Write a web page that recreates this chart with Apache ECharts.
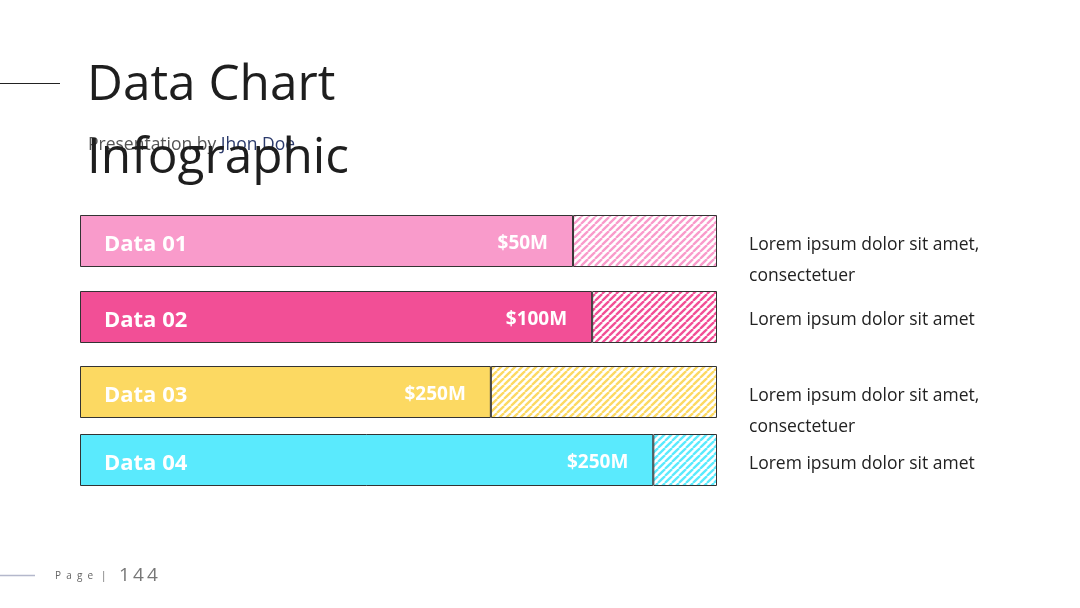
<!DOCTYPE html>
<html>
<head>
<meta charset="utf-8">
<script src="https://cdn.jsdelivr.net/npm/echarts@6/dist/echarts.min.js"></script>
<style>
  html, body { margin: 0; padding: 0; background: #fff; }
  #main { width: 1080px; height: 608px; }
</style>
</head>
<body>
<div id="main"></div>
<script>
// data
const categories = ['Data 01', 'Data 02', 'Data 03', 'Data 04']
const fillPct = [77.4, 80.4, 64.5, 90.0]          // solid part, % of full bar
const valueLabels = ['$50M', '$100M', '$250M', '$250M']
const notes = [
  ['Lorem ipsum dolor sit amet,', 'consectetuer'],
  ['Lorem ipsum dolor sit amet'],
  ['Lorem ipsum dolor sit amet,', 'consectetuer'],
  ['Lorem ipsum dolor sit amet']
]

const colors = ['#F99BCB', '#F24F96', '#FCD962', '#5AEAFD']
const barTops = [215, 291, 366, 434]
const noteTops = [245, 320, 396, 464]
const FONT = '"Open Sans", "Noto Sans", sans-serif'

// diagonal hatch used for the remaining part of each bar
function hatch(color) {
  const s = 7
  const c = document.createElement('canvas')
  c.width = c.height = s
  const ctx = c.getContext('2d')
  ctx.fillStyle = '#fff'
  ctx.fillRect(0, 0, s, s)
  ctx.strokeStyle = color
  ctx.lineWidth = 2.3
  for (const k of [-s, 0, s]) {
    ctx.beginPath()
    ctx.moveTo(k, s)
    ctx.lineTo(k + s, 0)
    ctx.stroke()
  }
  return { image: c, repeat: 'repeat' }
}

const grid = [], xAxis = [], yAxis = [], series = []
categories.forEach((name, i) => {
  grid.push({ left: 80, width: 637, top: barTops[i], height: 52 })
  xAxis.push({ gridIndex: i, type: 'value', min: 0, max: 100, show: false })
  yAxis.push({
    gridIndex: i, type: 'category', data: [name], z: 10,
    axisLine: { show: false }, axisTick: { show: false },
    axisLabel: {
      inside: true, margin: 24,
      formatter: v => '{n|' + v + '}',
      rich: { n: { color: '#fff', fontSize: 22, fontWeight: 'bold', fontFamily: FONT, padding: [8, 0, 0, 0] } }
    }
  })
  series.push({
    type: 'bar', xAxisIndex: i, yAxisIndex: i, stack: 's' + i, barWidth: 52,
    data: [fillPct[i]],
    itemStyle: { color: colors[i], borderColor: '#333', borderWidth: 1 },
    label: {
      show: true, position: 'insideRight', distance: 25, formatter: '{v|' + valueLabels[i] + '}',
      rich: { v: { color: '#fff', fontSize: 19, fontWeight: 'bold', fontFamily: FONT, padding: [5, 0, 0, 0] } }
    }
  })
  series.push({
    type: 'bar', xAxisIndex: i, yAxisIndex: i, stack: 's' + i, barWidth: 52,
    data: [100 - fillPct[i]],
    itemStyle: { color: hatch(colors[i]), borderColor: '#333', borderWidth: 1 }
  })
})

const graphic = [
  { type: 'line', shape: { x1: 0, y1: 83.5, x2: 60, y2: 83.5 }, style: { stroke: '#222', lineWidth: 1 } },
  { type: 'text', x: 88, y: 145, z: 1, style: {
      text: '{a|Presentation by }{b|Jhon Doe}', verticalAlign: 'middle',
      rich: {
        a: { fontSize: 17.5, fontFamily: FONT, fill: '#555' },
        b: { fontSize: 17.5, fontFamily: FONT, fill: '#2B3A6B' }
      } } },
  { type: 'text', x: 87, y: 86, z: 2, style: { text: 'Data Chart', verticalAlign: 'middle', fontSize: 49.5, fontFamily: FONT, fill: '#1e1e1e' } },
  { type: 'text', x: 87, y: 159, z: 2, style: { text: 'Infographic', verticalAlign: 'middle', fontSize: 49.5, fontFamily: FONT, fill: '#1e1e1e' } },
  { type: 'line', shape: { x1: 0, y1: 575.5, x2: 35, y2: 575.5 }, style: { stroke: '#B4B8CC', lineWidth: 1.5 } },
  { type: 'text', x: 55, y: 576, style: { text: 'P  a  g  e   |', verticalAlign: 'middle', fontSize: 10, fontFamily: FONT, fill: '#666' } },
  { type: 'text', x: 119, y: 576, style: { text: '1\u20094\u20094', verticalAlign: 'middle', fontSize: 19, fontFamily: FONT, fill: '#777' } }
]
notes.forEach((lines, i) => {
  lines.forEach((t, j) => {
    graphic.push({ type: 'text', x: 749, y: noteTops[i] + j * 31, style: {
      text: t, verticalAlign: 'middle', fontSize: 17.5, fontFamily: FONT, fill: '#222' } })
  })
})

const chart = echarts.init(document.getElementById('main'))
chart.setOption({
  animation: false,
  backgroundColor: '#fff',
  grid, xAxis, yAxis, series, graphic
})
window.addEventListener('resize', () => chart.resize())
</script>
</body>
</html>
